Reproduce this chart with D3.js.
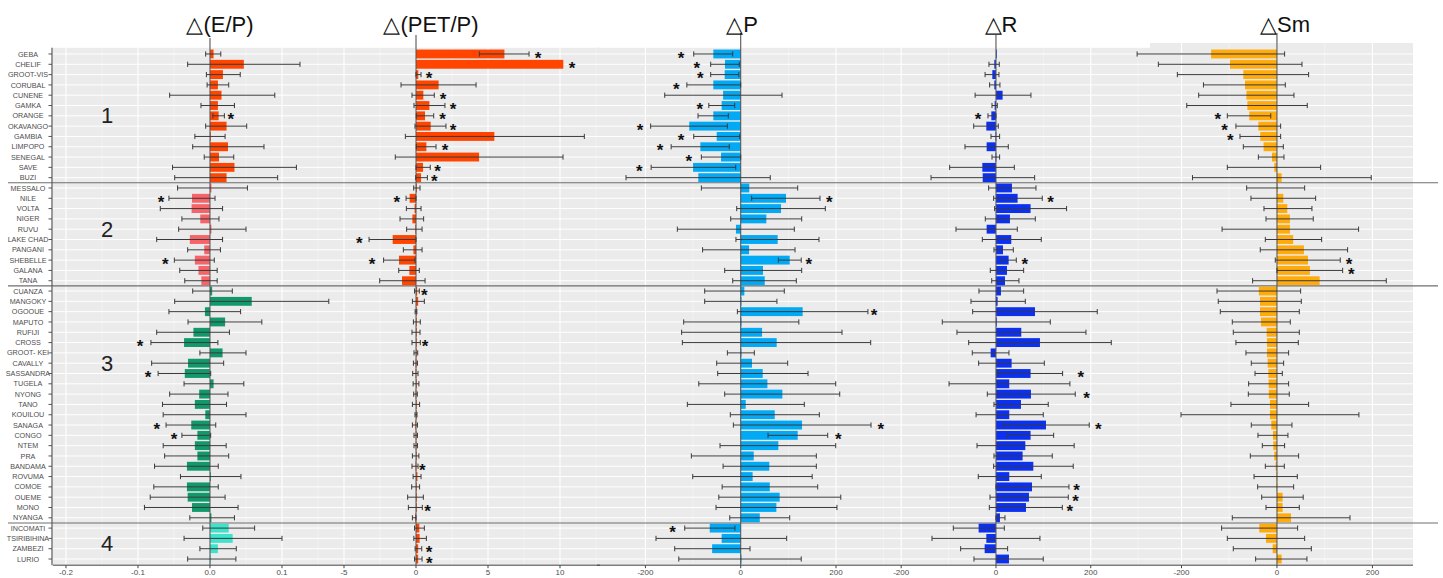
<!DOCTYPE html>
<html>
<head>
<meta charset="utf-8">
<script src="https://cdn.jsdelivr.net/npm/d3@7"></script>
<style>
  body { margin: 0; background: #fff; }
  svg { display: block; font-family: "Liberation Sans", Arial, sans-serif; }
</style>
</head>
<body>
<div id="chart"></div>
<script>
// basins, top to bottom, with the group each one belongs to
const basins = ['GEBA', 'CHELIF', 'GROOT-VIS', 'CORUBAL', 'CUNENE', 'GAMKA', 'ORANGE', 'OKAVANGO', 'GAMBIA', 'LIMPOPO', 'SENEGAL', 'SAVE', 'BUZI',
    'MESSALO', 'NILE', 'VOLTA', 'NIGER', 'RUVU', 'LAKE CHAD', 'PANGANI', 'SHEBELLE', 'GALANA', 'TANA',
    'CUANZA', 'MANGOKY', 'OGOOUE', 'MAPUTO', 'RUFIJI', 'CROSS', 'GROOT- KEI', 'CAVALLY', 'SASSANDRA', 'TUGELA', 'NYONG', 'TANO', 'KOUILOU',
    'SANAGA', 'CONGO', 'NTEM', 'PRA', 'BANDAMA', 'ROVUMA', 'COMOE', 'OUEME', 'MONO', 'NYANGA',
    'INCOMATI', 'TSIRIBIHINA', 'ZAMBEZI', 'LURIO'];
const groupSizes = [13, 10, 23, 4];
const groupNames = ['1', '2', '3', '4'];
const groupLabelRow = [6, 17, 30, 47.5];

// Δ(E/P)
const epVal = [0.005, 0.047, 0.018, 0.011, 0.016, 0.011, 0.012, 0.023, 0.000, 0.025, 0.0125, 0.034, 0.023,
    0.002, -0.025, -0.0255, -0.0135, 0.002, -0.028, -0.008, -0.021, -0.016, -0.012,
    0.003, 0.058, -0.007, 0.021, -0.023, -0.036, 0.0175, -0.0305, -0.035, 0.005, -0.015, -0.021, -0.0065,
    -0.026, -0.0175, -0.021, -0.0175, -0.032, 0.001, -0.032, -0.031, -0.025, 0.002,
    0.026, 0.0315, 0.011, 0.001];
const epLo = [-0.006, -0.031, -0.005, -0.004, -0.056, -0.0125, 0.004, -0.006, -0.021, -0.024, -0.008, -0.052, -0.049,
    -0.045, -0.057, -0.069, -0.039, -0.0435, -0.074, -0.031, -0.0495, -0.042, -0.035,
    -0.024, -0.049, -0.057, -0.0305, -0.074, -0.082, -0.014, -0.081, -0.072, -0.036, -0.056, -0.066, -0.065,
    -0.061, -0.039, -0.065, -0.063, -0.077, -0.041, -0.078, -0.083, -0.091, -0.028,
    -0.010, -0.036, -0.014, -0.031];
const epHi = [0.015, 0.125, 0.042, 0.026, 0.090, 0.034, 0.020, 0.051, 0.021, 0.075, 0.033, 0.120, 0.094,
    0.052, 0.007, 0.0175, 0.0125, 0.050, 0.0175, 0.0145, 0.006, 0.010, 0.010,
    0.031, 0.165, 0.0425, 0.072, 0.027, 0.011, 0.050, 0.019, 0.001, 0.047, 0.025, 0.023, 0.050,
    0.008, 0.001, 0.0225, 0.026, 0.0115, 0.043, 0.0115, 0.021, 0.039, 0.034,
    0.062, 0.100, 0.0365, 0.036];
const epStars = [['ORANGE', 0.029], ['NILE', -0.068], ['SHEBELLE', -0.062], ['CROSS', -0.097], ['SASSANDRA', -0.086],
    ['SANAGA', -0.074], ['CONGO', -0.050]];

// Δ(PET/P)
const petVal = [6.14, 10.23, 0.16, 1.57, 0.51, 0.93, 0.625, 1.02, 5.44, 0.72, 4.38, 0.49, 0.35,
    0.06, -0.44, -0.1, -0.25, -0.05, -1.62, -0.18, -1.18, -0.46, -0.97,
    0.08, 0.15, 0.0, 0.05, 0.0, 0.0, 0.0, -0.02, -0.03, 0.0, -0.03, 0.0, 0.0,
    -0.05, -0.02, -0.02, 0.0, -0.03, 0.1, 0.0, 0.0, 0.0, -0.05,
    0.23, 0.25, 0.15, 0.15];
const petLo = [4.4, null, 0.0, -1.04, -0.28, -0.14, 0.02, -0.07, -0.74, 0.02, -1.44, 0.0, -0.02,
    -0.16, -0.69, -0.67, -1.11, -0.65, -3.26, -0.88, -2.25, -1.2, -2.52,
    -0.1, -0.25, -0.06, -0.18, -0.28, -0.28, -0.14, -0.18, -0.23, -0.2, -0.16, -0.25, -0.07,
    -0.25, -0.14, -0.14, -0.25, -0.28, -0.2, -0.3, -0.58, -0.53, -0.25,
    -0.1, -0.15, -0.06, -0.1];
const petHi = [7.85, null, 0.35, 4.17, 1.27, 2.01, 1.23, 2.08, 11.69, 1.39, 10.21, 0.99, 0.79,
    0.28, 0.0, 0.35, 0.53, 0.42, 0.0, 0.42, -0.07, 0.23, 0.63,
    0.23, 0.58, 0.06, 0.3, 0.28, 0.3, 0.12, 0.1, 0.14, 0.2, 0.09, 0.25, 0.07,
    0.1, 0.1, 0.1, 0.2, 0.14, 0.35, 0.25, 0.51, 0.44, 0.0,
    0.58, 0.72, 0.4, 0.42];
const petStars = [['GEBA', 8.47], ['CHELIF', 10.83], ['GROOT-VIS', 0.9], ['CUNENE', 1.88], ['GAMKA', 2.57], ['ORANGE', 1.85],
    ['OKAVANGO', 2.57], ['LIMPOPO', 2.01], ['SAVE', 1.5], ['BUZI', 1.27], ['NILE', -1.34], ['LAKE CHAD', -3.94],
    ['SHEBELLE', -3.06], ['CUANZA', 0.58], ['CROSS', 0.63], ['BANDAMA', 0.44], ['MONO', 0.81], ['ZAMBEZI', 0.9], ['LURIO', 0.92]];

// ΔP
const pVal = [-57.5, -33, -33.6, -57.5, -37, -40, -57.5, -108, -50.4, -84.7, -41.3, -100, -89,
    18, 95, 84.6, 53.8, -10, 77.6, 17.5, 102.8, 46.8, 50.4,
    7.6, 0, 130, 1, 44.8, 75.5, 0, 23.7, 46.2, 56, 87.4, 10.5, 71.4,
    128.7, 119.6, 79, 27.3, 60, 25, 61, 81.8, 74.8, 40,
    -65, -40, -60, 0];
const pLo = [-98.6, -63, -63, -113, -159.5, -67, -89.6, -189, -98.6, -146, -82.6, -188, -240.7,
    -82.6, 23, -8.4, -21, -133, -10, -80, 79, -33.6, -16.8,
    -75.6, -75.6, -7, -119.7, -124, -122.5, -28, -50.4, -48.3, -88, -33.6, -112, -21.8,
    -15.4, 57.3, -43.4, -103.6, -37, -100.7, -39, -46, -51.8, -23,
    -117.5, -177.8, -138.5, -130];
const pHi = [-16.8, -3, -4, 0, 86.7, -12.6, -26, -28, -2, -24, 0, -10.5, 62,
    119.6, 166.4, 177.6, 128, 112.5, 164.3, 114, 127, 128, 116.7,
    91.5, 76, 267, 122, 212.6, 272.8, 28.6, 98.6, 141.3, 199.4, 207.8, 133.5, 165,
    273.5, 182.6, 199.4, 158.7, 158.7, 150, 161.6, 210, 202, 102.8,
    -12, 96.5, 19.5, 127];
const pStars = [['GEBA', -125], ['CHELIF', -92], ['GROOT-VIS', -85], ['CORUBAL', -135], ['GAMKA', -86], ['OKAVANGO', -211],
    ['GAMBIA', -125], ['LIMPOPO', -169], ['SENEGAL', -109], ['SAVE', -213], ['NILE', 186], ['SHEBELLE', 143],
    ['OGOOUE', 280], ['SANAGA', 294], ['CONGO', 205], ['INCOMATI', -143]];

// ΔR
const rVal = [0, -3.5, -7.7, -3.5, 14, -2.8, -9.8, -20.4, -1, -19.7, -1, -28.8, -28,
    33.7, 45.7, 73, 29.5, -19.7, 32.3, 14.8, 26.7, 23.2, 19,
    10.5, 3.5, 82.3, 0, 53.4, 92.8, -11.2, 33, 73, 28, 73.8, 52.7, 28,
    105.5, 73, 61.9, 56.2, 78.8, 28, 76, 69.6, 63.3, 8.4,
    -36.6, -20.4, -23.9, 27.4];
const rLo = [null, -14.8, -23, -13.4, -44, -8.4, -16.9, -47, -10.5, -65.4, -8.4, -97.7, -137,
    -15.5, -4.9, -2.8, -22.5, -84.4, -28.8, -4.2, 12, -12, -9,
    -35.9, -52.7, -49.2, -113.3, -82.3, -57.6, -50, -36.6, 3.5, -99, -18.3, -4.2, -42,
    16.2, 24.6, -40, -4.2, -4.9, -37.3, 0, -12.6, -14, 0,
    -90, -135, -74.5, -46.4];
const rHi = [null, 7, 6.3, 8.4, 73.8, 2.8, 0, 4.9, 7.7, 26, 7.7, 38.7, 81.6,
    84.4, 97.7, 149, 83, 45, 95.6, 36.6, 42.9, 58.4, 48.5,
    58.4, 61.9, 213.7, 114.6, 189.9, 243.3, 27.4, 102, 140.6, 156, 167.3, 110.3, 99.8,
    196.8, 121.7, 165, 118.8, 163, 95.6, 154, 152.6, 140, 19,
    17.6, 92.8, 24.6, 99.8];
const rStars = [['ORANGE', -38], ['NILE', 115], ['SHEBELLE', 61], ['SASSANDRA', 179], ['NYONG', 191], ['SANAGA', 216],
    ['COMOE', 170], ['OUEME', 168], ['MONO', 156]];

// ΔSm
const smVal = [-138, -98.5, -70.5, -67, -64, -62, -58, -39, -35, -28, -10.5, -5.6, 9.8,
    1, 13.3, 21.6, 27.2, 27.2, 34, 56.5, 65, 69, 89.4,
    -38, -35.6, -35.6, -33.5, -21.6, -21, -21, -19.5, -18, -17.5, -17, -14.7, -14.7,
    -11.9, -8.4, -7.7, -5.6, -2.8, -1, -1, 11.9, 11.9, 29.3,
    -37, -23, -9, 9.8];
const smLo = [-293, -248.5, -208.7, -154, -164, -189, -104, -86, -77.5, -70.5, -39, -104, -177,
    -63.5, -54.5, -27.2, -23, -115, -24.4, -35, -3.5, 0, -51,
    -125.6, -123, -118.7, -93.6, -91.5, -86, -65, -53.8, -46, -59.4, -60, -96.4, -201,
    -53.8, -39.8, -30.7, -55.8, -24.4, -48, -40.5, -32, -23, -93.6,
    -116, -104, -91.5, -44.7];
const smHi = [16, 52.4, 66.3, 17.5, 35.6, 63.5, -13, 7.7, 7.7, 13.3, 14.7, 91.5, 197.5,
    58, 81, 73.3, 76, 171, 93.6, 148, 132.6, 137.6, 229,
    49.6, 51, 46.8, 27.9, 46.8, 44.7, 24.4, 14, 11.2, 24.4, 25.8, 66.3, 171.7,
    31.4, 23, 16, 45.4, 15.4, 42.6, 35, 55, 46.8, 153,
    43.3, 58, 72, 62.8];
const smStars = [['ORANGE', -124], ['OKAVANGO', -110], ['GAMBIA', -98], ['SHEBELLE', 151], ['GALANA', 156]];

const epGroupColors = ['#ff4500', '#f6646a', '#12996b', '#3fe3cb'];

function renderBasinPanels() {
    const width = 1443, height = 578;
    const container = d3.select('#chart');
    container.html('');

    const svg = container.append('svg')
        .attr('width', width)
        .attr('height', height);

    const top = 47.8, bottom = 565.2;
    const y = d3.scalePoint().domain(basins).range([top, bottom]).padding(0.6);
    const step = y.step();
    const barH = step * 0.86;

    const groupOf = [];
    groupSizes.forEach((n, g) => { for (let i = 0; i < n; i++) groupOf.push(g); });

    const panels = [
        { title: '△(E/P)', titleX: 220, x0: 53, x1: 336, top: 47.8, domain: [-0.218, 0.175],
          ticks: [-0.2, -0.1, 0, 0.1], minor: [-0.15, -0.05, 0.05, 0.15], fmt: d => d.toFixed(1),
          val: epVal, lo: epLo, hi: epHi, stars: epStars, color: i => epGroupColors[groupOf[i]], lineTop: 38 },
        { title: '△(PET/P)', titleX: 431, axisTitle: 'PET_P', x0: 336, x1: 600, top: 47.8, domain: [-5.556, 12.778],
          ticks: [-5, 0, 5, 10], minor: [-2.5, 2.5, 7.5, 12.5], fmt: d => d,
          val: petVal, lo: petLo, hi: petHi, stars: petStars, color: () => '#ff4500', lineTop: 35 },
        { title: '△P', titleX: 742, x0: 597, x1: 900, top: 47.8, domain: [-301.6, 334.3],
          ticks: [-200, 0, 200], minor: [-100, 100, 300], fmt: d => d,
          val: pVal, lo: pLo, hi: pHi, stars: pStars, color: () => '#02a9f4', lineTop: 33 },
        { title: '△R', titleX: 1001, x0: 900, x1: 1150, top: 47.8, domain: [-202.5, 325],
          ticks: [-200, 0, 200], minor: [-100, 100, 300], fmt: d => d,
          val: rVal, lo: rLo, hi: rHi, stars: rStars, color: () => '#0b30ef', lineTop: 35 },
        { title: '△Sm', titleX: 1285, x0: 1150, x1: 1413, top: 43, domain: [-266, 285],
          ticks: [-200, 0, 200], minor: [-100, 100], fmt: d => d,
          val: smVal, lo: smLo, hi: smHi, stars: smStars, color: () => '#ffab0c', lineTop: 33 }
    ];
    panels.forEach(p => { p.x = d3.scaleLinear().domain(p.domain).range([p.x0, p.x1]); });

    // Panel backgrounds and grid
    panels.forEach(p => {
        const g = svg.append('g');
        g.append('rect')
            .attr('x', p.x0).attr('y', p.top)
            .attr('width', p.x1 - p.x0).attr('height', bottom - p.top)
            .attr('fill', '#ebebeb');

        g.selectAll('.minor')
            .data(p.minor.filter(v => v > p.domain[0] && v < p.domain[1]))
            .enter().append('line')
            .attr('x1', d => p.x(d)).attr('x2', d => p.x(d))
            .attr('y1', p.top).attr('y2', bottom)
            .attr('stroke', '#f7f7f7').attr('stroke-width', 0.6);

        g.selectAll('.major')
            .data(p.ticks)
            .enter().append('line')
            .attr('x1', d => p.x(d)).attr('x2', d => p.x(d))
            .attr('y1', p.top).attr('y2', bottom)
            .attr('stroke', '#fff').attr('stroke-width', 1.1);

        g.selectAll('.hgrid')
            .data(basins)
            .enter().append('line')
            .attr('x1', p.x0).attr('x2', p.x1)
            .attr('y1', d => y(d)).attr('y2', d => y(d))
            .attr('stroke', '#fff').attr('stroke-width', 1);
    });

    // Group separators
    let acc = 0;
    groupSizes.slice(0, -1).forEach(n => {
        acc += n;
        const sy = (y(basins[acc - 1]) + y(basins[acc])) / 2;
        svg.append('line')
            .attr('x1', 8).attr('x2', 1438)
            .attr('y1', sy).attr('y2', sy)
            .attr('stroke', '#6e6e6e').attr('stroke-width', 1.1);
    });

    // Bars, zero lines, error bars, stars, axes
    panels.forEach(p => {
        const g = svg.append('g');
        const x0 = p.x(0);

        g.selectAll('.bar')
            .data(basins)
            .enter().append('rect')
            .attr('x', (d, i) => Math.min(p.x(p.val[i]), x0))
            .attr('y', d => y(d) - barH / 2)
            .attr('width', (d, i) => Math.max(Math.abs(p.x(p.val[i]) - x0), 0.8))
            .attr('height', barH)
            .attr('fill', (d, i) => p.color(i));

        g.append('line')
            .attr('x1', x0).attr('x2', x0)
            .attr('y1', p.lineTop).attr('y2', bottom)
            .attr('stroke', '#555').attr('stroke-width', 1.1);

        const eb = basins.map((d, i) => ({ name: d, lo: p.lo[i], hi: p.hi[i] })).filter(d => d.lo !== null);
        const ebG = g.selectAll('.err').data(eb).enter().append('g')
            .attr('stroke', '#3a3a3a').attr('stroke-width', 1);
        ebG.append('line')
            .attr('x1', d => p.x(d.lo)).attr('x2', d => p.x(d.hi))
            .attr('y1', d => y(d.name)).attr('y2', d => y(d.name));
        ebG.append('line')
            .attr('x1', d => p.x(d.lo)).attr('x2', d => p.x(d.lo))
            .attr('y1', d => y(d.name) - 2.6).attr('y2', d => y(d.name) + 2.6);
        ebG.append('line')
            .attr('x1', d => p.x(d.hi)).attr('x2', d => p.x(d.hi))
            .attr('y1', d => y(d.name) - 2.6).attr('y2', d => y(d.name) + 2.6);

        g.selectAll('.star')
            .data(p.stars)
            .enter().append('text')
            .attr('x', d => p.x(d[1]))
            .attr('y', d => y(d[0]) + 9.6)
            .attr('text-anchor', 'middle')
            .style('font-size', '17px')
            .style('font-weight', 'bold')
            .style('fill', '#111')
            .text('*');

        // bottom axis
        g.append('line')
            .attr('x1', p.x0).attr('x2', p.x1)
            .attr('y1', bottom).attr('y2', bottom)
            .attr('stroke', '#444').attr('stroke-width', 1);
        g.selectAll('.tick')
            .data(p.ticks)
            .enter().append('line')
            .attr('x1', d => p.x(d)).attr('x2', d => p.x(d))
            .attr('y1', bottom).attr('y2', bottom + 3)
            .attr('stroke', '#444');
        g.selectAll('.tickLabel')
            .data(p.ticks)
            .enter().append('text')
            .attr('x', d => p.x(d))
            .attr('y', 575)
            .attr('text-anchor', 'middle')
            .style('font-size', '8px')
            .style('fill', '#4d4d4d')
            .text(p.fmt);

        // axis title, mostly cropped at the bottom edge as in the source figure
        if (p.axisTitle) {
            g.append('text')
                .attr('x', 488)
                .attr('y', 584)
                .attr('text-anchor', 'middle')
                .style('font-size', '9px')
                .style('fill', '#222')
                .text(p.axisTitle);
        }

        // title
        svg.append('text')
            .attr('x', p.titleX)
            .attr('y', 32)
            .attr('text-anchor', 'middle')
            .style('font-size', '22px')
            .style('fill', '#111')
            .text(p.title);
    });

    // Left axis with basin names
    svg.append('line')
        .attr('x1', 52).attr('x2', 52)
        .attr('y1', top).attr('y2', bottom)
        .attr('stroke', '#555').attr('stroke-width', 1.2);
    svg.selectAll('.ytick')
        .data(basins)
        .enter().append('line')
        .attr('x1', 48.5).attr('x2', 52)
        .attr('y1', d => y(d)).attr('y2', d => y(d))
        .attr('stroke', '#555');
    svg.selectAll('.ylabel')
        .data(basins)
        .enter().append('text')
        .attr('x', 28)
        .attr('y', d => y(d) + 2.6)
        .attr('text-anchor', 'middle')
        .style('font-size', '7.2px')
        .style('fill', '#4d4d4d')
        .text(d => d);

    // Group numbers
    svg.selectAll('.groupNum')
        .data(groupNames)
        .enter().append('text')
        .attr('x', 107)
        .attr('y', (d, i) => y(basins[0]) + groupLabelRow[i] * step + 7.5)
        .attr('text-anchor', 'middle')
        .style('font-size', '22px')
        .style('fill', '#222')
        .text(d => d);
}

renderBasinPanels();
</script>
</body>
</html>
